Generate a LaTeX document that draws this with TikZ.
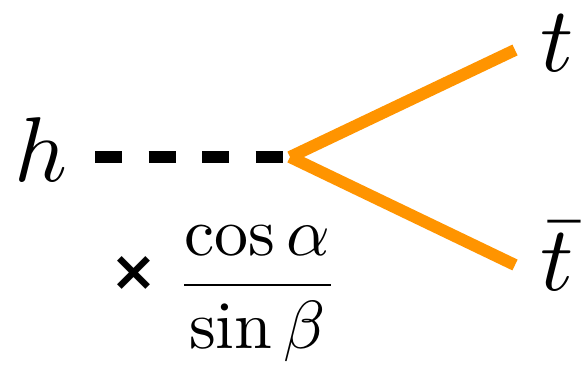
\documentclass[tikz,border=0pt]{standalone}
\usepackage{fontspec}
\newfontfamily\dejabold{DejaVu Sans Bold}
\definecolor{fermion}{RGB}{255,148,0}
\begin{document}
\begin{tikzpicture}[x=1pt,y=1pt,
  lbl/.style={inner sep=0pt,scale=9.2,transform shape},
  fr/.style={inner sep=0pt,scale=6.8,transform shape},
  scalar/.style={line width=12pt,dash pattern=on 27pt off 26.5pt},
  ferm/.style={line width=12pt,color=fermion}]
\useasboundingbox (0,0) rectangle (583,364);
\coordinate (v) at (290,207);
\coordinate (hs) at (95,207);
\coordinate (te) at (515,314);
\coordinate (tbe) at (515,99);
\node[lbl,anchor=base] (h) at (41,182) {$h$};
\node[lbl,anchor=base] (t) at (557,292) {$t$};
\node[lbl,anchor=base] (tb) at (557,73) {$\bar t$};
\draw[scalar] (hs) -- (v);
\draw[ferm] (v) -- (te);
\draw[ferm] (v) -- (tbe);
\node[fr,anchor=base] (f) at (257.5,62) {$\displaystyle\frac{\cos\alpha}{\sin\beta}$};
\node[inner sep=0pt,font=\fontsize{56}{56}\selectfont] (x) at (134,90.5) {\dejabold ×};
\end{tikzpicture}
\end{document}
